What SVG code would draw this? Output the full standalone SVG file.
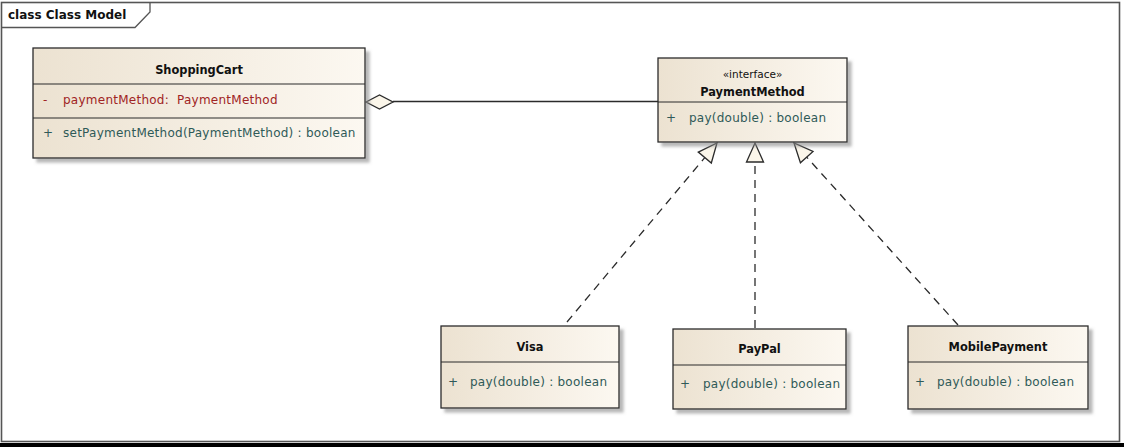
<svg xmlns="http://www.w3.org/2000/svg" width="1124" height="447" viewBox="0 0 1124 447">
<style>
.box{fill:url(#g);stroke:#2b2b2b;stroke-width:1.3}
.div{stroke:#2b2b2b;stroke-width:1.2}
.title{font-family:"DejaVu Sans",Verdana,sans-serif;font-weight:bold;font-size:11.4px;fill:#111;text-anchor:middle}
.stereo{font-family:"DejaVu Sans",Verdana,sans-serif;font-size:10.5px;fill:#111;text-anchor:middle}
.op{font-family:"DejaVu Sans",Verdana,sans-serif;font-size:12px;fill:#2f5a58;letter-spacing:0.25px}
.attr{font-family:"DejaVu Sans",Verdana,sans-serif;font-size:12px;fill:#a02424;letter-spacing:0.25px}
.real{fill:none;stroke:#2b2b2b;stroke-width:1.3;stroke-dasharray:8 6}
</style>
<defs>
<linearGradient id="g" x1="0" y1="0" x2="1" y2="0">
<stop offset="0" stop-color="#ECE2D1"/>
<stop offset="1" stop-color="#FCF8F1"/>
</linearGradient>
<filter id="sh" x="-5%" y="-5%" width="115%" height="125%">
<feDropShadow dx="4" dy="4" stdDeviation="1.5" flood-color="#888" flood-opacity="0.6"/>
</filter>
<marker id="tri" markerUnits="userSpaceOnUse" markerWidth="24" markerHeight="24" viewBox="0 0 24 24" refX="21" refY="12" orient="auto">
<path d="M2,3.5 L21,12 L2,20.5 Z" fill="#FBF6EA" stroke="#2b2b2b" stroke-width="1.3"/>
</marker>
</defs>
<rect x="0" y="0" width="1124" height="447" fill="#fff"/>
<g id="frame">
<rect x="1.5" y="2.5" width="1118" height="439" fill="none" stroke="#555" stroke-width="1.6"/>
<path d="M1.5,27.5 H135 L150,12 V2.5" fill="none" stroke="#555" stroke-width="1.3"/>
<text x="8" y="19" font-family="DejaVu Sans,Verdana,sans-serif" font-weight="bold" font-size="12px" fill="#111">class Class Model</text>
<rect x="0" y="443" width="1124" height="4" fill="#000"/>
</g>
<g id="connectors">
<path d="M393,101.5 H658" fill="none" stroke="#2b2b2b" stroke-width="1.3"/>
<path d="M366,102 L379.5,95 L393,102 L379.5,109 Z" fill="#FBF6EA" stroke="#2b2b2b" stroke-width="1.3"/>
<path class="real" d="M567,322 L717,143" marker-end="url(#tri)"/>
<path class="real" d="M755,328 L755,143" marker-end="url(#tri)"/>
<path class="real" d="M958,325 L794,143" marker-end="url(#tri)"/>
</g>
<g id="ShoppingCart">
<rect class="box" x="33" y="48" width="332" height="110" filter="url(#sh)"/>
<line class="div" x1="33" y1="84" x2="365" y2="84"/>
<line class="div" x1="33" y1="118" x2="365" y2="118"/>
<text class="title" x="199" y="74">ShoppingCart</text>
<text class="attr" x="43" y="104">-</text>
<text class="attr" x="63" y="104">paymentMethod:</text>
<text class="attr" x="177" y="104">PaymentMethod</text>
<text class="op" x="43" y="137">+</text>
<text class="op" x="63" y="137">setPaymentMethod(PaymentMethod) : boolean</text>
</g>
<g id="PaymentMethod">
<rect class="box" x="658" y="58" width="189" height="84" filter="url(#sh)"/>
<line class="div" x1="658" y1="102" x2="847" y2="102"/>
<text class="stereo" x="752.5" y="78">«interface»</text>
<text class="title" x="752.5" y="96">PaymentMethod</text>
<text class="op" x="666" y="122">+</text>
<text class="op" x="689" y="122">pay(double) : boolean</text>
</g>
<g id="Visa">
<rect class="box" x="441" y="326" width="178" height="82" filter="url(#sh)"/>
<line class="div" x1="441" y1="362" x2="619" y2="362"/>
<text class="title" x="530" y="351">Visa</text>
<text class="op" x="448" y="386">+</text>
<text class="op" x="470" y="386">pay(double) : boolean</text>
</g>
<g id="PayPal">
<rect class="box" x="673" y="329" width="173" height="80" filter="url(#sh)"/>
<line class="div" x1="673" y1="365" x2="846" y2="365"/>
<text class="title" x="759.5" y="353">PayPal</text>
<text class="op" x="680" y="388">+</text>
<text class="op" x="703" y="388">pay(double) : boolean</text>
</g>
<g id="MobilePayment">
<rect class="box" x="908" y="326" width="180" height="83" filter="url(#sh)"/>
<line class="div" x1="908" y1="362" x2="1088" y2="362"/>
<text class="title" x="998" y="351">MobilePayment</text>
<text class="op" x="915" y="386">+</text>
<text class="op" x="937" y="386">pay(double) : boolean</text>
</g>
</svg>
